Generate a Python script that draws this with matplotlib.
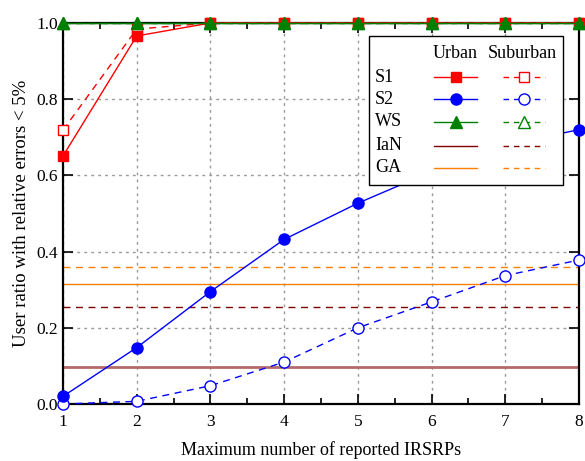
import matplotlib
matplotlib.use("Agg")
import matplotlib.pyplot as plt
from matplotlib.lines import Line2D
from matplotlib.patches import Rectangle
from matplotlib.ticker import MultipleLocator, FormatStrFormatter

plt.rcParams['font.family'] = ['Liberation Serif', 'DejaVu Serif']

x = [1, 2, 3, 4, 5, 6, 7, 8]
s1_urban = [0.651, 0.966, 1.0, 1.0, 1.0, 1.0, 1.0, 1.0]
s1_suburban = [0.719, 0.984, 1.0, 1.0, 1.0, 1.0, 1.0, 1.0]
s2_urban = [0.020, 0.148, 0.295, 0.432, 0.527, 0.610, 0.680, 0.720]
s2_suburban = [0.0, 0.007, 0.048, 0.110, 0.200, 0.268, 0.337, 0.378]
ws_urban = [1.0] * 8
ws_suburban = [1.0] * 8
ian_urban = 0.097
ian_suburban = 0.255
ga_urban = 0.315
ga_suburban = 0.360

row_names = ['S1', 'S2', 'WS', 'IaN', 'GA']
col_names = ['Urban', 'Suburban']

fig = plt.figure(figsize=(5.85, 4.61), dpi=100)
ax = fig.add_axes([63/585, 57/461, (579-63)/585, (404-23)/461])

red, blue, green = '#ff0000', '#0000ff', '#008000'
ian_c, ga_c = '#800000', '#ff8000'

ax.axhline(ian_urban, color='#b56a6a', lw=2.0, zorder=2)
ax.axhline(ian_suburban, color=ian_c, lw=1.0, ls=(0, (5, 4)), zorder=2)
ax.axhline(ga_urban, color=ga_c, lw=1.0, zorder=2)
ax.axhline(ga_suburban, color=ga_c, lw=1.0, ls=(0, (5, 4)), zorder=2)

ms = 8
ax.plot(x, s2_suburban, color=blue, lw=1.0, ls=(0, (5, 4)), marker='o', ms=ms,
        mfc='white', mec=blue, mew=1.0, zorder=3, clip_on=False)
ax.plot(x, s2_urban, color=blue, lw=1.0, marker='o', ms=ms, zorder=3, clip_on=False)
ax.plot(x, s1_suburban, color=red, lw=1.0, ls=(0, (5, 4)), marker='s', ms=7,
        mfc='white', mec=red, mew=1.0, zorder=3, clip_on=False)
ax.plot(x, s1_urban, color=red, lw=1.0, marker='s', ms=7, zorder=3, clip_on=False)
ax.plot(x, ws_suburban, color=green, lw=1.0, ls=(0, (5, 4)), marker='^', ms=ms,
        mfc='white', mec=green, mew=1.0, zorder=4, clip_on=False)
ax.plot(x, ws_urban, color=green, lw=1.0, marker='^', ms=ms, zorder=4, clip_on=False)

ax.set_xlim(1, 8)
ax.set_ylim(0, 1.0)
ax.xaxis.set_major_locator(MultipleLocator(1))
ax.xaxis.set_minor_locator(MultipleLocator(0.5))
ax.yaxis.set_major_locator(MultipleLocator(0.2))
ax.yaxis.set_major_formatter(FormatStrFormatter('%.1f'))
ax.tick_params(which='both', direction='in', top=True, right=True, labelsize=12.5, width=1.2)
ax.tick_params(which='major', length=7)
ax.tick_params(which='minor', length=4)
ax.tick_params(axis='x', pad=7)
ax.grid(True, which='major', color='#999999', ls=(0, (2, 3)), lw=1.0)
for s in ax.spines.values():
    s.set_linewidth(1.6)
ax.set_xlabel('Maximum number of reported IRSRPs', fontsize=13, labelpad=8)
ax.set_ylabel('User ratio with relative errors < 5%', fontsize=13.5, labelpad=5)

# Legend table (axes coordinates)
def px2ax(px, py):
    return ((px - 63) / (579 - 63), (404 - py) / (404 - 23))

x0, y0 = px2ax(369, 185)
x1, y1 = px2ax(563, 36)
ax.add_patch(Rectangle((x0, y0), x1 - x0, y1 - y0, transform=ax.transAxes,
                       facecolor='white', edgecolor='black', lw=1.0, zorder=10, clip_on=False))
hx, hy = px2ax(455, 53)
ax.text(hx, hy, col_names[0], transform=ax.transAxes, ha='center', va='center', fontsize=13, zorder=11)
hx, hy = px2ax(522, 53)
ax.text(hx, hy, col_names[1], transform=ax.transAxes, ha='center', va='center', fontsize=13, zorder=11)

row_y = [77, 99, 122, 146, 168]
styles = [
    (red, 's', 7),
    (blue, 'o', 8),
    (green, '^', 8),
    (ian_c, None, 0),
    (ga_c, None, 0),
]
for name, py, (c, m, msz) in zip(row_names, row_y, styles):
    tx, ty = px2ax(375, py)
    ax.text(tx, ty, name, transform=ax.transAxes, ha='left', va='center', fontsize=13, zorder=11)
    ax_a, ay = px2ax(434, py)
    ax_b, _ = px2ax(477, py)
    ax.add_line(Line2D([ax_a, ax_b], [ay, ay], transform=ax.transAxes, color=c, lw=1.0,
                       zorder=11, clip_on=False))
    if m:
        ax.add_line(Line2D([(ax_a + ax_b) / 2], [ay], transform=ax.transAxes, color=c,
                           marker=m, ms=msz, ls='none', zorder=12, clip_on=False))
    bx_a, _ = px2ax(503, py)
    bx_b, _ = px2ax(545, py)
    ax.add_line(Line2D([bx_a, bx_b], [ay, ay], transform=ax.transAxes, color=c, lw=1.0,
                       ls=(0, (4, 3.5)), zorder=11, clip_on=False))
    if m:
        ax.add_line(Line2D([(bx_a + bx_b) / 2], [ay], transform=ax.transAxes, color=c,
                           marker=m, ms=msz, mfc='white', mec=c, ls='none', zorder=12,
                           clip_on=False))

fig.savefig('out.png', dpi=100)
